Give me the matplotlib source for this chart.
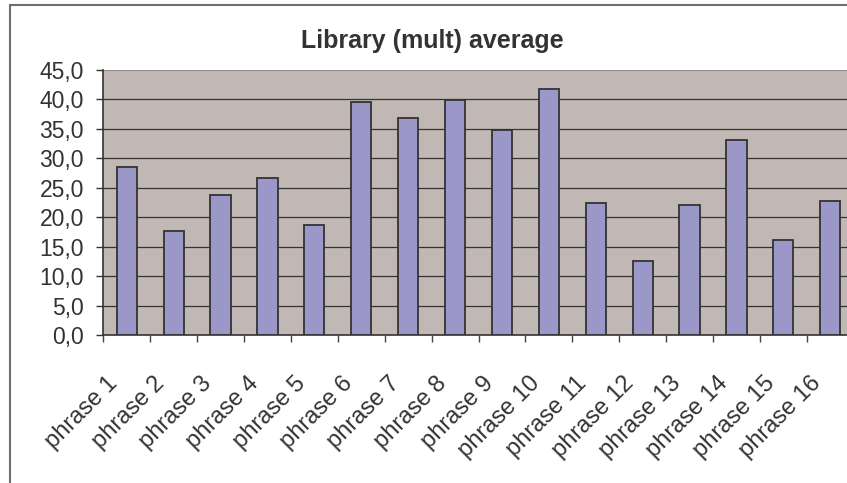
import matplotlib.pyplot as plt
from matplotlib.patches import Rectangle
from matplotlib.ticker import FuncFormatter
from matplotlib.transforms import ScaledTranslation

plt.rcParams['font.family'] = ['Liberation Sans', 'DejaVu Sans']

# Average per phrase
phrases = ['phrase %d' % i for i in range(1, 17)]
averages = [28.6, 17.7, 23.8, 26.7, 18.7, 39.6, 36.9, 39.9,
            34.8, 41.7, 22.5, 12.6, 22.0, 33.1, 16.2, 22.8]
y_ticks = [0, 5, 10, 15, 20, 25, 30, 35, 40, 45]

W, H = 847, 483
fig = plt.figure(figsize=(W / 100, H / 100), dpi=100)

# chart frame (runs off the right and bottom edges)
fig.patches.append(Rectangle((10 / W, -0.1), 1.2, 1 - 5 / H + 0.1,
                             transform=fig.transFigure, fill=False,
                             edgecolor='#6e6e6e', linewidth=1.5))

# plot area is wider than the figure, so the last slot gets cut off
ax = fig.add_axes([103.3 / W, 148 / H, 750.4 / W, 265 / H])
ax.set_facecolor('#c1b8b5')

x = list(range(len(phrases)))
ax.bar(x, averages, width=0.43, color='#9c97c9', edgecolor='#333333',
       linewidth=1.3, zorder=3)

ax.set_xlim(-0.5, len(phrases) - 0.5)
ax.set_ylim(0, 45)
ax.set_yticks(y_ticks)
ax.yaxis.set_major_formatter(FuncFormatter(lambda v, p: ('%.1f' % v).replace('.', ',')))

for v in y_ticks[1:-1]:
    ax.axhline(v, color='#333333', linewidth=0.9, zorder=1)
ax.axhline(45, color='#8c8482', linewidth=1.2, zorder=1)

ax.set_xticks(x)
ax.set_xticks([i - 0.5 for i in range(len(phrases) + 1)], minor=True)
ax.tick_params(axis='x', which='major', length=0, pad=27)
ax.tick_params(axis='x', which='minor', length=5, width=1, color='#444444')
ax.set_xticklabels(phrases, rotation=45, ha='right', va='top',
                   rotation_mode='anchor', fontsize=17, color='#333333')
shift = ScaledTranslation(-20 / 100, 0, fig.dpi_scale_trans)
for lbl in ax.get_xticklabels():
    lbl.set_transform(lbl.get_transform() + shift)

ax.tick_params(axis='y', length=5, width=1, color='#333333', pad=9,
               labelsize=16.5, labelcolor='#333333')

for side in ['top', 'right']:
    ax.spines[side].set_visible(False)
ax.spines['left'].set_color('#333333')
ax.spines['bottom'].set_color('#333333')
ax.spines['left'].set_linewidth(1.2)
ax.spines['bottom'].set_linewidth(1.2)

fig.text(432.5 / W, 1 - 41 / H, 'Library (mult) average', ha='center', va='center',
         fontsize=18, fontweight='bold', color='#333333')

fig.savefig('out.png', dpi=100)
